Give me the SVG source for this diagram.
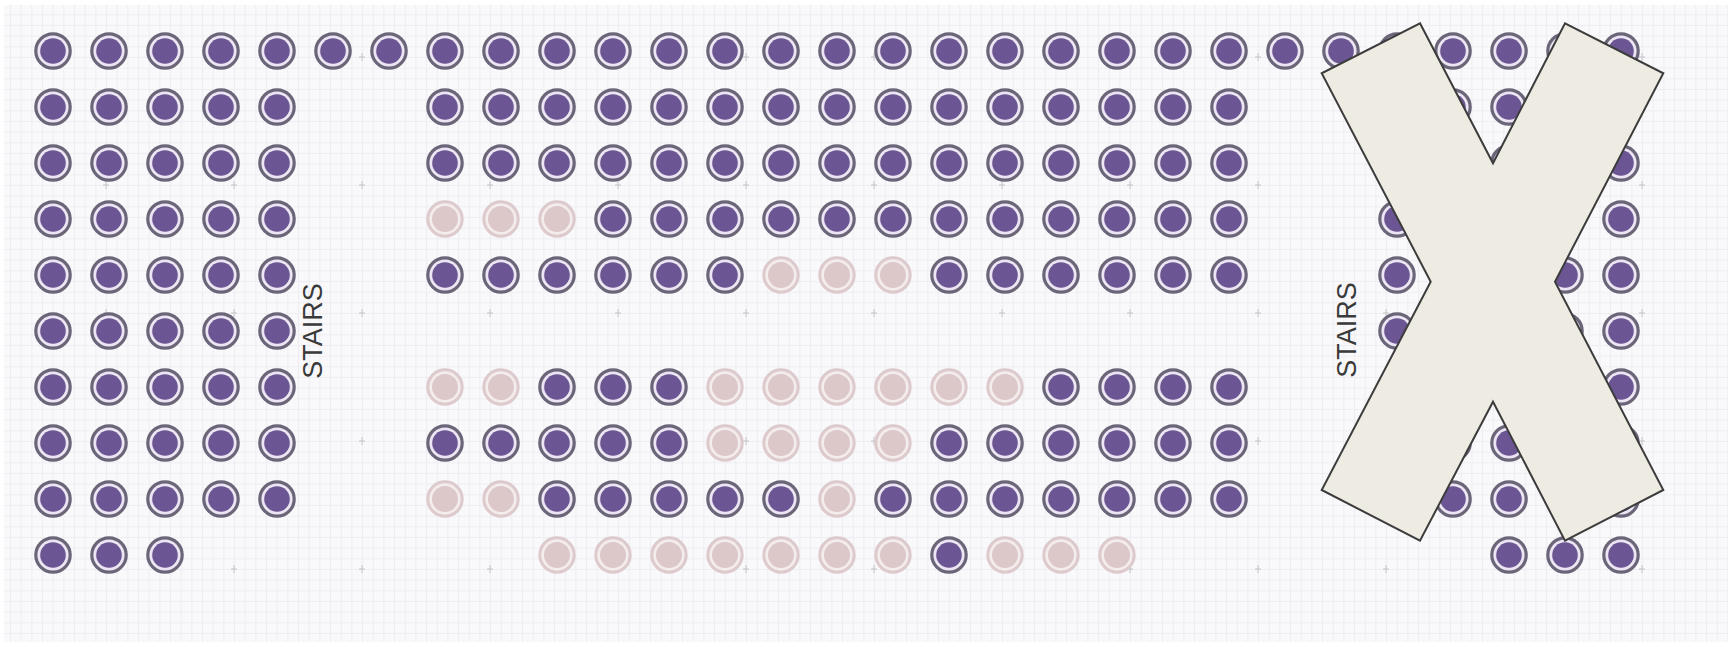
<svg xmlns="http://www.w3.org/2000/svg" xmlns:xlink="http://www.w3.org/1999/xlink" width="1734" height="647" viewBox="0 0 1734 647">
<style>
.lbl{font-family:"Liberation Sans","Arial",sans-serif;font-size:27px;fill:#3a3a3a;text-anchor:middle}
.tick{stroke:#b8b8be;stroke-width:1;fill:none;opacity:.8}
.xmark{fill:#eeece2;stroke:#3c3c3c;stroke-width:2;stroke-linejoin:miter}
</style>
<defs>
<pattern id="grid" width="10.667" height="10.667" patternUnits="userSpaceOnUse" x="10" y="3.67">
<rect width="10.667" height="10.667" fill="#f9f9fb"/>
<path d="M0 0.5H10.667M0.5 0V10.667" stroke="#eeeef2" stroke-width="1"/>
</pattern>
<g id="d"><circle r="17.2" fill="#ece5f3" stroke="#6b6579" stroke-width="3.2"/><circle r="12.8" fill="#6b5592"/></g>
<g id="f"><circle r="17.2" fill="#f4eced" stroke="#dccacc" stroke-width="3"/><circle r="13" fill="#dcc7c9"/></g>
</defs>
<rect width="1734" height="647" fill="#ffffff"/>
<rect x="4" y="5" width="1724" height="637" fill="url(#grid)"/>
<g id="ticks" class="tick">
<path d="M103 57h6M106 53v8M231 57h6M234 53v8M359 57h6M362 53v8M487 57h6M490 53v8M615 57h6M618 53v8M743 57h6M746 53v8M871 57h6M874 53v8M999 57h6M1002 53v8M1127 57h6M1130 53v8M1255 57h6M1258 53v8M1383 57h6M1386 53v8M1511 57h6M1514 53v8M1639 57h6M1642 53v8"/>
<path d="M103 185h6M106 181v8M231 185h6M234 181v8M359 185h6M362 181v8M487 185h6M490 181v8M615 185h6M618 181v8M743 185h6M746 181v8M871 185h6M874 181v8M999 185h6M1002 181v8M1127 185h6M1130 181v8M1255 185h6M1258 181v8M1383 185h6M1386 181v8M1511 185h6M1514 181v8M1639 185h6M1642 181v8"/>
<path d="M103 313h6M106 309v8M231 313h6M234 309v8M359 313h6M362 309v8M487 313h6M490 309v8M615 313h6M618 309v8M743 313h6M746 309v8M871 313h6M874 309v8M999 313h6M1002 309v8M1127 313h6M1130 309v8M1255 313h6M1258 309v8M1383 313h6M1386 309v8M1511 313h6M1514 309v8M1639 313h6M1642 309v8"/>
<path d="M103 441h6M106 437v8M231 441h6M234 437v8M359 441h6M362 437v8M487 441h6M490 437v8M615 441h6M618 437v8M743 441h6M746 437v8M871 441h6M874 437v8M999 441h6M1002 437v8M1127 441h6M1130 437v8M1255 441h6M1258 437v8M1383 441h6M1386 437v8M1511 441h6M1514 437v8M1639 441h6M1642 437v8"/>
<path d="M103 569h6M106 565v8M231 569h6M234 565v8M359 569h6M362 565v8M487 569h6M490 565v8M615 569h6M618 565v8M743 569h6M746 565v8M871 569h6M874 565v8M999 569h6M1002 565v8M1127 569h6M1130 565v8M1255 569h6M1258 565v8M1383 569h6M1386 565v8M1511 569h6M1514 565v8M1639 569h6M1642 565v8"/>
</g>
<g id="seats">
<!-- row 0 -->
<g id="r0c0"><use href="#d" x="53" y="51"/></g><g id="r0c1"><use href="#d" x="109" y="51"/></g><g id="r0c2"><use href="#d" x="165" y="51"/></g><g id="r0c3"><use href="#d" x="221" y="51"/></g><g id="r0c4"><use href="#d" x="277" y="51"/></g><g id="r0c5"><use href="#d" x="333" y="51"/></g><g id="r0c6"><use href="#d" x="389" y="51"/></g><g id="r0c7"><use href="#d" x="445" y="51"/></g><g id="r0c8"><use href="#d" x="501" y="51"/></g><g id="r0c9"><use href="#d" x="557" y="51"/></g><g id="r0c10"><use href="#d" x="613" y="51"/></g><g id="r0c11"><use href="#d" x="669" y="51"/></g><g id="r0c12"><use href="#d" x="725" y="51"/></g><g id="r0c13"><use href="#d" x="781" y="51"/></g><g id="r0c14"><use href="#d" x="837" y="51"/></g><g id="r0c15"><use href="#d" x="893" y="51"/></g><g id="r0c16"><use href="#d" x="949" y="51"/></g><g id="r0c17"><use href="#d" x="1005" y="51"/></g><g id="r0c18"><use href="#d" x="1061" y="51"/></g><g id="r0c19"><use href="#d" x="1117" y="51"/></g><g id="r0c20"><use href="#d" x="1173" y="51"/></g><g id="r0c21"><use href="#d" x="1229" y="51"/></g><g id="r0c22"><use href="#d" x="1285" y="51"/></g><g id="r0c23"><use href="#d" x="1341" y="51"/></g><g id="r0c24"><use href="#d" x="1397" y="51"/></g><g id="r0c25"><use href="#d" x="1453" y="51"/></g><g id="r0c26"><use href="#d" x="1509" y="51"/></g><g id="r0c27"><use href="#d" x="1565" y="51"/></g><g id="r0c28"><use href="#d" x="1621" y="51"/></g>
<!-- row 1 -->
<g id="r1c0"><use href="#d" x="53" y="107"/></g><g id="r1c1"><use href="#d" x="109" y="107"/></g><g id="r1c2"><use href="#d" x="165" y="107"/></g><g id="r1c3"><use href="#d" x="221" y="107"/></g><g id="r1c4"><use href="#d" x="277" y="107"/></g><g id="r1c7"><use href="#d" x="445" y="107"/></g><g id="r1c8"><use href="#d" x="501" y="107"/></g><g id="r1c9"><use href="#d" x="557" y="107"/></g><g id="r1c10"><use href="#d" x="613" y="107"/></g><g id="r1c11"><use href="#d" x="669" y="107"/></g><g id="r1c12"><use href="#d" x="725" y="107"/></g><g id="r1c13"><use href="#d" x="781" y="107"/></g><g id="r1c14"><use href="#d" x="837" y="107"/></g><g id="r1c15"><use href="#d" x="893" y="107"/></g><g id="r1c16"><use href="#d" x="949" y="107"/></g><g id="r1c17"><use href="#d" x="1005" y="107"/></g><g id="r1c18"><use href="#d" x="1061" y="107"/></g><g id="r1c19"><use href="#d" x="1117" y="107"/></g><g id="r1c20"><use href="#d" x="1173" y="107"/></g><g id="r1c21"><use href="#d" x="1229" y="107"/></g><g id="r1c24"><use href="#d" x="1397" y="107"/></g><g id="r1c25"><use href="#d" x="1453" y="107"/></g><g id="r1c26"><use href="#d" x="1509" y="107"/></g><g id="r1c27"><use href="#d" x="1565" y="107"/></g><g id="r1c28"><use href="#d" x="1621" y="107"/></g>
<!-- row 2 -->
<g id="r2c0"><use href="#d" x="53" y="163"/></g><g id="r2c1"><use href="#d" x="109" y="163"/></g><g id="r2c2"><use href="#d" x="165" y="163"/></g><g id="r2c3"><use href="#d" x="221" y="163"/></g><g id="r2c4"><use href="#d" x="277" y="163"/></g><g id="r2c7"><use href="#d" x="445" y="163"/></g><g id="r2c8"><use href="#d" x="501" y="163"/></g><g id="r2c9"><use href="#d" x="557" y="163"/></g><g id="r2c10"><use href="#d" x="613" y="163"/></g><g id="r2c11"><use href="#d" x="669" y="163"/></g><g id="r2c12"><use href="#d" x="725" y="163"/></g><g id="r2c13"><use href="#d" x="781" y="163"/></g><g id="r2c14"><use href="#d" x="837" y="163"/></g><g id="r2c15"><use href="#d" x="893" y="163"/></g><g id="r2c16"><use href="#d" x="949" y="163"/></g><g id="r2c17"><use href="#d" x="1005" y="163"/></g><g id="r2c18"><use href="#d" x="1061" y="163"/></g><g id="r2c19"><use href="#d" x="1117" y="163"/></g><g id="r2c20"><use href="#d" x="1173" y="163"/></g><g id="r2c21"><use href="#d" x="1229" y="163"/></g><g id="r2c24"><use href="#d" x="1397" y="163"/></g><g id="r2c25"><use href="#d" x="1453" y="163"/></g><g id="r2c26"><use href="#d" x="1509" y="163"/></g><g id="r2c27"><use href="#d" x="1565" y="163"/></g><g id="r2c28"><use href="#d" x="1621" y="163"/></g>
<!-- row 3 -->
<g id="r3c0"><use href="#d" x="53" y="219"/></g><g id="r3c1"><use href="#d" x="109" y="219"/></g><g id="r3c2"><use href="#d" x="165" y="219"/></g><g id="r3c3"><use href="#d" x="221" y="219"/></g><g id="r3c4"><use href="#d" x="277" y="219"/></g><g id="r3c7"><use href="#f" x="445" y="219"/></g><g id="r3c8"><use href="#f" x="501" y="219"/></g><g id="r3c9"><use href="#f" x="557" y="219"/></g><g id="r3c10"><use href="#d" x="613" y="219"/></g><g id="r3c11"><use href="#d" x="669" y="219"/></g><g id="r3c12"><use href="#d" x="725" y="219"/></g><g id="r3c13"><use href="#d" x="781" y="219"/></g><g id="r3c14"><use href="#d" x="837" y="219"/></g><g id="r3c15"><use href="#d" x="893" y="219"/></g><g id="r3c16"><use href="#d" x="949" y="219"/></g><g id="r3c17"><use href="#d" x="1005" y="219"/></g><g id="r3c18"><use href="#d" x="1061" y="219"/></g><g id="r3c19"><use href="#d" x="1117" y="219"/></g><g id="r3c20"><use href="#d" x="1173" y="219"/></g><g id="r3c21"><use href="#d" x="1229" y="219"/></g><g id="r3c24"><use href="#d" x="1397" y="219"/></g><g id="r3c25"><use href="#d" x="1453" y="219"/></g><g id="r3c26"><use href="#d" x="1509" y="219"/></g><g id="r3c27"><use href="#d" x="1565" y="219"/></g><g id="r3c28"><use href="#d" x="1621" y="219"/></g>
<!-- row 4 -->
<g id="r4c0"><use href="#d" x="53" y="275"/></g><g id="r4c1"><use href="#d" x="109" y="275"/></g><g id="r4c2"><use href="#d" x="165" y="275"/></g><g id="r4c3"><use href="#d" x="221" y="275"/></g><g id="r4c4"><use href="#d" x="277" y="275"/></g><g id="r4c7"><use href="#d" x="445" y="275"/></g><g id="r4c8"><use href="#d" x="501" y="275"/></g><g id="r4c9"><use href="#d" x="557" y="275"/></g><g id="r4c10"><use href="#d" x="613" y="275"/></g><g id="r4c11"><use href="#d" x="669" y="275"/></g><g id="r4c12"><use href="#d" x="725" y="275"/></g><g id="r4c13"><use href="#f" x="781" y="275"/></g><g id="r4c14"><use href="#f" x="837" y="275"/></g><g id="r4c15"><use href="#f" x="893" y="275"/></g><g id="r4c16"><use href="#d" x="949" y="275"/></g><g id="r4c17"><use href="#d" x="1005" y="275"/></g><g id="r4c18"><use href="#d" x="1061" y="275"/></g><g id="r4c19"><use href="#d" x="1117" y="275"/></g><g id="r4c20"><use href="#d" x="1173" y="275"/></g><g id="r4c21"><use href="#d" x="1229" y="275"/></g><g id="r4c24"><use href="#d" x="1397" y="275"/></g><g id="r4c25"><use href="#d" x="1453" y="275"/></g><g id="r4c26"><use href="#d" x="1509" y="275"/></g><g id="r4c27"><use href="#d" x="1565" y="275"/></g><g id="r4c28"><use href="#d" x="1621" y="275"/></g>
<!-- row 5 -->
<g id="r5c0"><use href="#d" x="53" y="331"/></g><g id="r5c1"><use href="#d" x="109" y="331"/></g><g id="r5c2"><use href="#d" x="165" y="331"/></g><g id="r5c3"><use href="#d" x="221" y="331"/></g><g id="r5c4"><use href="#d" x="277" y="331"/></g><g id="r5c24"><use href="#d" x="1397" y="331"/></g><g id="r5c25"><use href="#d" x="1453" y="331"/></g><g id="r5c26"><use href="#d" x="1509" y="331"/></g><g id="r5c27"><use href="#d" x="1565" y="331"/></g><g id="r5c28"><use href="#d" x="1621" y="331"/></g>
<!-- row 6 -->
<g id="r6c0"><use href="#d" x="53" y="387"/></g><g id="r6c1"><use href="#d" x="109" y="387"/></g><g id="r6c2"><use href="#d" x="165" y="387"/></g><g id="r6c3"><use href="#d" x="221" y="387"/></g><g id="r6c4"><use href="#d" x="277" y="387"/></g><g id="r6c7"><use href="#f" x="445" y="387"/></g><g id="r6c8"><use href="#f" x="501" y="387"/></g><g id="r6c9"><use href="#d" x="557" y="387"/></g><g id="r6c10"><use href="#d" x="613" y="387"/></g><g id="r6c11"><use href="#d" x="669" y="387"/></g><g id="r6c12"><use href="#f" x="725" y="387"/></g><g id="r6c13"><use href="#f" x="781" y="387"/></g><g id="r6c14"><use href="#f" x="837" y="387"/></g><g id="r6c15"><use href="#f" x="893" y="387"/></g><g id="r6c16"><use href="#f" x="949" y="387"/></g><g id="r6c17"><use href="#f" x="1005" y="387"/></g><g id="r6c18"><use href="#d" x="1061" y="387"/></g><g id="r6c19"><use href="#d" x="1117" y="387"/></g><g id="r6c20"><use href="#d" x="1173" y="387"/></g><g id="r6c21"><use href="#d" x="1229" y="387"/></g><g id="r6c25"><use href="#d" x="1453" y="387"/></g><g id="r6c27"><use href="#d" x="1565" y="387"/></g><g id="r6c28"><use href="#d" x="1621" y="387"/></g>
<!-- row 7 -->
<g id="r7c0"><use href="#d" x="53" y="443"/></g><g id="r7c1"><use href="#d" x="109" y="443"/></g><g id="r7c2"><use href="#d" x="165" y="443"/></g><g id="r7c3"><use href="#d" x="221" y="443"/></g><g id="r7c4"><use href="#d" x="277" y="443"/></g><g id="r7c7"><use href="#d" x="445" y="443"/></g><g id="r7c8"><use href="#d" x="501" y="443"/></g><g id="r7c9"><use href="#d" x="557" y="443"/></g><g id="r7c10"><use href="#d" x="613" y="443"/></g><g id="r7c11"><use href="#d" x="669" y="443"/></g><g id="r7c12"><use href="#f" x="725" y="443"/></g><g id="r7c13"><use href="#f" x="781" y="443"/></g><g id="r7c14"><use href="#f" x="837" y="443"/></g><g id="r7c15"><use href="#f" x="893" y="443"/></g><g id="r7c16"><use href="#d" x="949" y="443"/></g><g id="r7c17"><use href="#d" x="1005" y="443"/></g><g id="r7c18"><use href="#d" x="1061" y="443"/></g><g id="r7c19"><use href="#d" x="1117" y="443"/></g><g id="r7c20"><use href="#d" x="1173" y="443"/></g><g id="r7c21"><use href="#d" x="1229" y="443"/></g><g id="r7c24"><use href="#d" x="1397" y="443"/></g><g id="r7c25"><use href="#d" x="1453" y="443"/></g><g id="r7c26"><use href="#d" x="1509" y="443"/></g><g id="r7c27"><use href="#d" x="1565" y="443"/></g><g id="r7c28"><use href="#d" x="1621" y="443"/></g>
<!-- row 8 -->
<g id="r8c0"><use href="#d" x="53" y="499"/></g><g id="r8c1"><use href="#d" x="109" y="499"/></g><g id="r8c2"><use href="#d" x="165" y="499"/></g><g id="r8c3"><use href="#d" x="221" y="499"/></g><g id="r8c4"><use href="#d" x="277" y="499"/></g><g id="r8c7"><use href="#f" x="445" y="499"/></g><g id="r8c8"><use href="#f" x="501" y="499"/></g><g id="r8c9"><use href="#d" x="557" y="499"/></g><g id="r8c10"><use href="#d" x="613" y="499"/></g><g id="r8c11"><use href="#d" x="669" y="499"/></g><g id="r8c12"><use href="#d" x="725" y="499"/></g><g id="r8c13"><use href="#d" x="781" y="499"/></g><g id="r8c14"><use href="#f" x="837" y="499"/></g><g id="r8c15"><use href="#d" x="893" y="499"/></g><g id="r8c16"><use href="#d" x="949" y="499"/></g><g id="r8c17"><use href="#d" x="1005" y="499"/></g><g id="r8c18"><use href="#d" x="1061" y="499"/></g><g id="r8c19"><use href="#d" x="1117" y="499"/></g><g id="r8c20"><use href="#d" x="1173" y="499"/></g><g id="r8c21"><use href="#d" x="1229" y="499"/></g><g id="r8c24"><use href="#d" x="1397" y="499"/></g><g id="r8c25"><use href="#d" x="1453" y="499"/></g><g id="r8c26"><use href="#d" x="1509" y="499"/></g><g id="r8c27"><use href="#d" x="1565" y="499"/></g><g id="r8c28"><use href="#d" x="1621" y="499"/></g>
<!-- row 9 -->
<g id="r9c0"><use href="#d" x="53" y="555"/></g><g id="r9c1"><use href="#d" x="109" y="555"/></g><g id="r9c2"><use href="#d" x="165" y="555"/></g><g id="r9c9"><use href="#f" x="557" y="555"/></g><g id="r9c10"><use href="#f" x="613" y="555"/></g><g id="r9c11"><use href="#f" x="669" y="555"/></g><g id="r9c12"><use href="#f" x="725" y="555"/></g><g id="r9c13"><use href="#f" x="781" y="555"/></g><g id="r9c14"><use href="#f" x="837" y="555"/></g><g id="r9c15"><use href="#f" x="893" y="555"/></g><g id="r9c16"><use href="#d" x="949" y="555"/></g><g id="r9c17"><use href="#f" x="1005" y="555"/></g><g id="r9c18"><use href="#f" x="1061" y="555"/></g><g id="r9c19"><use href="#f" x="1117" y="555"/></g><g id="r9c26"><use href="#d" x="1509" y="555"/></g><g id="r9c27"><use href="#d" x="1565" y="555"/></g><g id="r9c28"><use href="#d" x="1621" y="555"/></g>
</g>
<g id="stairs-left"><text class="lbl" transform="translate(312,331) rotate(-90)" x="0" y="9.7">STAIRS</text></g>
<g id="stairs-right"><text class="lbl" transform="translate(1346,330) rotate(-90)" x="0" y="9.7">STAIRS</text></g>
<g id="closed-mark"><polygon class="xmark" points="1420,23.3 1493,163.3 1565,23.3 1663.3,73.3 1555,281.7 1663.3,490 1565,540.7 1493,401.7 1420,540.7 1321.7,490 1430.7,281.7 1321.7,73.3"/></g>
</svg>
